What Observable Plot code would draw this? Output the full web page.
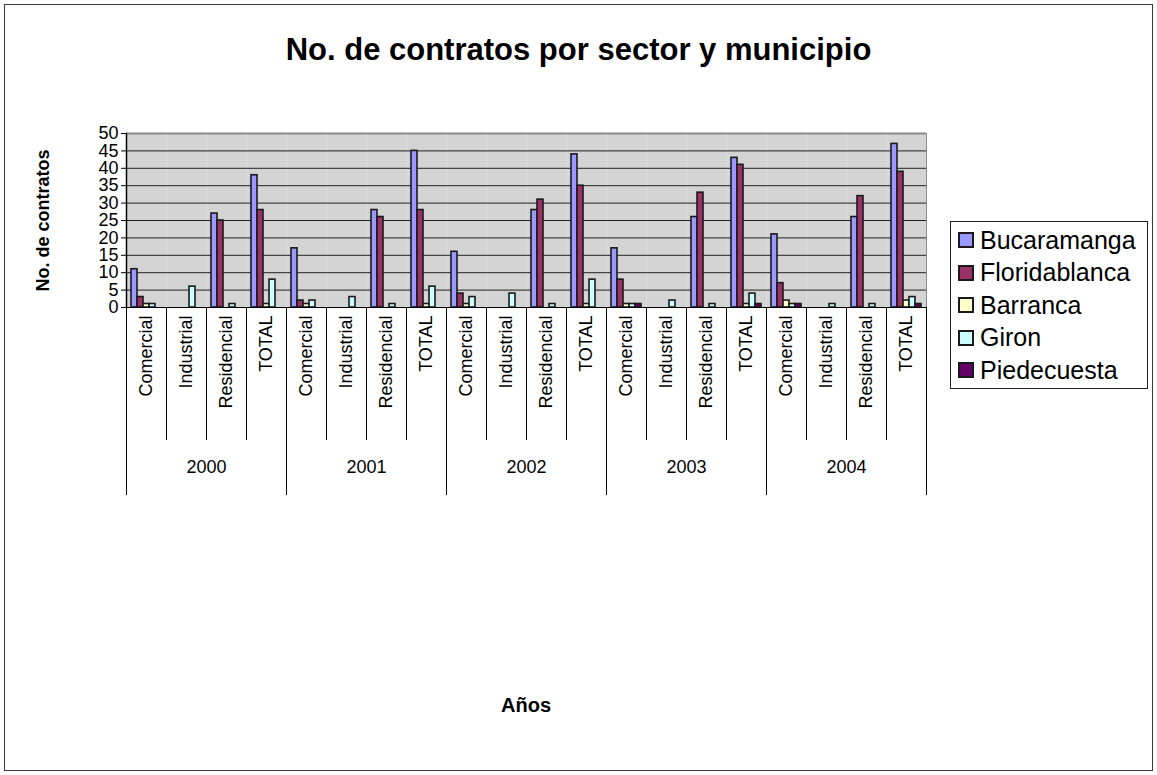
<!DOCTYPE html>
<html>
<head>
<meta charset="utf-8">
<script src="https://cdn.jsdelivr.net/npm/d3@7"></script>
<script src="https://cdn.jsdelivr.net/npm/@observablehq/plot@0.6"></script>
<style>
  html, body { margin: 0; padding: 0; background: #fff; }
  body { font-family: "Liberation Sans", Arial, sans-serif; color: #000; }
  #page { position: relative; width: 1157px; height: 775px; overflow: hidden; }
  #border { position: absolute; left: 4px; top: 4px; width: 1149px; height: 767px; border: 1px solid #3a3a3a; box-sizing: border-box; }
  #title { position: absolute; left: 0; top: 33px; width: 1157px; text-align: center; font-weight: bold; font-size: 31px; line-height: 34px; }
  #plot { position: absolute; left: 0; top: 110px; }
  #caption { position: absolute; left: 126px; width: 800px; top: 692px; text-align: center; font-weight: bold; font-size: 20px; line-height: 26px; }
  #legend { position: absolute; left: 950px; top: 221px; width: 198px; height: 168px; border: 1px solid #222; box-sizing: border-box; background: #fff; }
  #legend .row { position: absolute; left: 7px; height: 28px; display: flex; align-items: center; font-size: 25px; white-space: nowrap; }
  #legend .sw { width: 12px; height: 12px; border: 2px solid #1a1a1a; margin-right: 6px; }
</style>
</head>
<body>
<div id="page">
  <div id="border"></div>
  <div id="title">No. de contratos por sector y municipio</div>
  <div id="plot"></div>
  <div id="caption">Años</div>
  <div id="legend"></div>
</div>
<script>
// ---- data ----
const anios = ["2000", "2001", "2002", "2003", "2004"];
const sectores = ["Comercial", "Industrial", "Residencial", "TOTAL"];
const municipios = ["Bucaramanga", "Floridablanca", "Barranca", "Giron", "Piedecuesta"];
const colores = ["#9999ff", "#993366", "#ffffcc", "#ccffff", "#660066"];
// values in order: year-major, sector-minor (Comercial, Industrial, Residencial, TOTAL)
const bucaramanga   = [11, 0, 27, 38,  17, 0, 28, 45,  16, 0, 28, 44,  17, 0, 26, 43,  21, 0, 26, 47];
const floridablanca = [ 3, 0, 25, 28,   2, 0, 26, 28,   4, 0, 31, 35,   8, 0, 33, 41,   7, 0, 32, 39];
const barranca      = [ 1, 0,  0,  1,   1, 0,  0,  1,   1, 0,  0,  1,   1, 0,  0,  1,   2, 0,  0,  2];
const giron         = [ 1, 6,  1,  8,   2, 3,  1,  6,   3, 4,  1,  8,   1, 2,  1,  4,   1, 1,  1,  3];
const piedecuesta   = [ 0, 0,  0,  0,   0, 0,  0,  0,   0, 0,  0,  0,   1, 0,  0,  1,   1, 0,  0,  1];
const yTicks = [0, 5, 10, 15, 20, 25, 30, 35, 40, 45, 50];

// ---- table ----
const series = [bucaramanga, floridablanca, barranca, giron, piedecuesta];
const claves = anios.flatMap(a => sectores.map(s => `${a}|${s}`));
const filas = [];
municipios.forEach((m, i) => series[i].forEach((v, j) => filas.push({clave: claves[j], municipio: m, valor: v})));

// ---- layout ----
const W = 1157, H = 580, ML = 126, MR = 231, MT = 23, MB = 383;
const frameH = H - MT - MB;
const step = (W - ML - MR) / claves.length;
const sector = k => k.split("|")[1];
const anio = k => k.split("|")[0];
const id = d => d;

const chart = Plot.plot({
  width: W, height: H,
  marginLeft: ML, marginRight: MR, marginTop: MT, marginBottom: MB,
  style: {background: "transparent", fontFamily: "'Liberation Sans', Arial, sans-serif", fontSize: "18px", color: "#000"},
  fx: {domain: claves, padding: 0, axis: null},
  x: {domain: municipios, paddingInner: 0, paddingOuter: 0.625, axis: null},
  y: {domain: [0, 50]},
  color: {domain: municipios, range: colores},
  marks: [
    Plot.frame({fill: "#d4d4d4", stroke: null}),
    Plot.gridY(yTicks.slice(1, -1), {stroke: "#222", strokeOpacity: 1, strokeWidth: 1}),
    Plot.gridY([50], {stroke: "#8c8c8c", strokeOpacity: 1, strokeWidth: 2}),
    Plot.frame({anchor: "right", facetAnchor: "right", stroke: "#8c8c8c"}),
    Plot.barY(filas.filter(d => d.valor > 0), {fx: "clave", x: "municipio", y: "valor", fill: "municipio", stroke: "#1a1a1a", strokeWidth: 1.6}),
    Plot.ruleY([0], {stroke: "#000"}),
    Plot.frame({anchor: "left", facetAnchor: "left", stroke: "#000", strokeWidth: 1.5}),
    Plot.axisY(yTicks, {tickSize: 5, tickPadding: 3, fontSize: 18, label: null}),
    Plot.axisY({ticks: [], tickSize: 0, label: "No. de contratos", labelAnchor: "center", labelArrow: "none", labelOffset: 90, fontWeight: "bold", fontSize: 18}),
    // category labels
    Plot.text(claves, {fx: id, text: sector, frameAnchor: "bottom", rotate: -90, textAnchor: "end", lineAnchor: "middle", dy: 8, fontSize: 18}),
    // short separators between categories
    Plot.ruleX(claves.filter(k => sector(k) !== sectores[0]), {fx: id, x: null, dx: -step / 2, insetTop: frameH, insetBottom: -133, stroke: "#000"}),
    // long separators between years
    Plot.ruleX(claves.filter(k => sector(k) === sectores[0]), {fx: id, x: null, dx: -step / 2, insetTop: frameH, insetBottom: -188, stroke: "#000"}),
    Plot.ruleX([claves[claves.length - 1]], {fx: id, x: null, dx: step / 2, insetTop: frameH, insetBottom: -188, stroke: "#000"}),
    // year labels
    Plot.text(claves.filter(k => sector(k) === sectores[1]), {fx: id, text: anio, frameAnchor: "bottom-right", textAnchor: "middle", lineAnchor: "middle", dx: 0, dy: 160, fontSize: 18})
  ]
});
document.getElementById("plot").appendChild(chart);

// ---- legend ----
const legend = document.getElementById("legend");
municipios.forEach((m, i) => {
  const row = document.createElement("div");
  row.className = "row";
  row.style.top = (4 + i * 32.5) + "px";
  const sw = document.createElement("div");
  sw.className = "sw";
  sw.style.background = colores[i];
  const t = document.createElement("span");
  t.textContent = m;
  row.appendChild(sw);
  row.appendChild(t);
  legend.appendChild(row);
});
</script>
</body>
</html>
